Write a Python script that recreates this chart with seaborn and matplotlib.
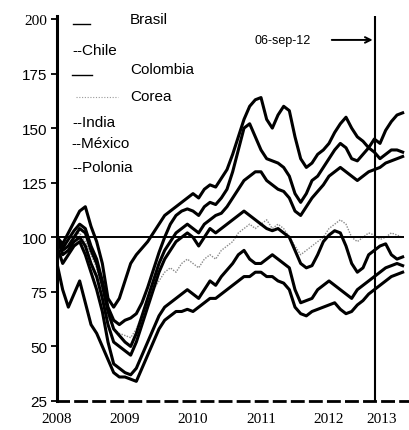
import numpy as np
import pandas as pd
import matplotlib
matplotlib.use('Agg')
import matplotlib.pyplot as plt
from matplotlib.lines import Line2D
import seaborn as sns

# monthly index values, jan-2008 .. feb-2013 (base 100)
paises = ['Brasil', 'Chile', 'Colombia', 'Corea', 'India', 'México', 'Polonia']

colombia = [100, 97, 102, 107, 112, 114, 105, 98, 88, 72, 68, 72,
            80, 88, 92, 95, 98, 102, 106, 110, 112, 114, 116, 118,
            120, 118, 122, 124, 123, 127, 131, 138, 146, 154, 160, 163,
            164, 154, 150, 156, 160, 158, 146, 136, 132, 134, 138, 140,
            143, 148, 152, 155, 150, 146, 144, 141, 145, 143, 149, 153,
            156, 157]
chile = [100, 95, 99, 103, 106, 104, 96, 90, 80, 68, 62, 60,
         62, 63, 65, 70, 77, 85, 93, 100, 106, 110, 112, 113,
         112, 110, 114, 116, 115, 118, 122, 130, 140, 150, 152, 146,
         140, 136, 135, 134, 132, 128, 120, 116, 120, 126, 128, 132,
         136, 140, 143, 141, 136, 135, 138, 141, 139, 136, 138, 140,
         140, 139]
mexico = [100, 94, 96, 100, 104, 102, 94, 88, 78, 66, 58, 55,
          52, 50, 56, 64, 72, 80, 88, 94, 98, 102, 104, 106,
          104, 102, 106, 108, 110, 111, 114, 118, 122, 126, 128, 130,
          130, 126, 124, 122, 121, 118, 112, 110, 114, 118, 121, 124,
          128, 130, 132, 130, 128, 126, 128, 130, 131, 132, 134, 135,
          136, 137]
polonia = [100, 92, 94, 98, 100, 96, 88, 82, 72, 60, 52, 50,
           48, 46, 52, 60, 68, 76, 84, 90, 94, 98, 100, 102,
           100, 96, 100, 104, 102, 104, 106, 108, 110, 112, 110, 108,
           106, 104, 103, 104, 102, 100, 94, 88, 86, 87, 92, 98,
           101, 103, 102, 96, 88, 84, 86, 92, 94, 96, 97, 92,
           90, 91]
corea = [98, 94, 96, 100, 102, 98, 92, 86, 76, 64, 58, 56,
         55, 54, 58, 64, 70, 76, 80, 84, 86, 84, 88, 90,
         88, 86, 90, 92, 90, 94, 96, 98, 102, 104, 106, 104,
         106, 108, 104, 106, 104, 100, 96, 92, 94, 96, 98, 100,
         104, 106, 108, 106, 100, 98, 100, 102, 101, 99, 100, 102,
         101, 100]
brasil = [96, 88, 92, 96, 98, 92, 84, 76, 66, 52, 42, 40,
          38, 37, 40, 46, 52, 58, 64, 68, 70, 72, 74, 76,
          74, 72, 76, 80, 78, 82, 85, 88, 92, 94, 90, 88,
          88, 90, 92, 90, 88, 86, 76, 70, 71, 72, 76, 78,
          80, 78, 76, 74, 72, 76, 78, 80, 82, 84, 86, 87,
          88, 87]
india = [88, 76, 68, 74, 80, 70, 60, 56, 50, 44, 38, 36,
         36, 35, 34, 40, 46, 52, 58, 62, 64, 66, 66, 67,
         66, 68, 70, 72, 72, 74, 76, 78, 80, 82, 82, 84,
         84, 82, 82, 80, 79, 76, 68, 65, 64, 66, 67, 68,
         69, 70, 67, 65, 66, 69, 71, 74, 76, 78, 80, 82,
         83, 84]

anios = [2008, 2009, 2010, 2011, 2012, 2013]
y_ticks = [25, 50, 75, 100, 125, 150, 175, 200]
fecha_corte = 2012 + 250 / 366  # 06-sep-12

series = {'Brasil': brasil, 'Chile': chile, 'Colombia': colombia, 'Corea': corea,
          'India': india, 'México': mexico, 'Polonia': polonia}
frames = []
for p in paises:
    v = series[p]
    frames.append(pd.DataFrame({'fecha': 2008 + np.arange(len(v)) / 12.0,
                                'indice': v, 'pais': p}))
df = pd.concat(frames, ignore_index=True)

fig = plt.figure(figsize=(4.10, 4.31), dpi=100)
ax = fig.add_axes([57 / 410, 1 - 402 / 431, 1 - 57 / 410, (402 - 17) / 431])

palette = {p: 'black' for p in paises}
palette['Corea'] = '#8a8a8a'
dashes = {p: '' for p in paises}
dashes['Corea'] = (1, 1)
sns.lineplot(data=df, x='fecha', y='indice', hue='pais', style='pais',
             palette=palette, dashes=dashes, linewidth=2.2, legend=False, ax=ax)
for l in ax.get_lines():
    if l.get_color() == '#8a8a8a':
        l.set_linewidth(1.0)

ax.hlines(100, 2008, 2013.1, color='black', lw=1.4)
ax.axvline(fecha_corte, color='black', lw=1.5)
ax.annotate('', xy=(fecha_corte, 190.4), xytext=(2012.0, 190.4),
            arrowprops=dict(arrowstyle='->', lw=1.4, color='black'))
ax.text(2011.32, 190.4, '06-sep-12', fontsize=9, ha='center', va='center',
        family='Liberation Sans')

ax.set_xlim(2008, 2008 + (410 - 57) / 68)
ax.set_ylim(25, 25 + (402 - 17) / 2.183)
ax.set_xticks(anios)
ax.set_xticklabels([str(a) for a in anios], family='Liberation Serif', fontsize=11)
ax.get_xticklabels()[-1].set_ha('right')
ax.get_xticklabels()[-1].set_x(2013.18)
ax.set_yticks(y_ticks)
ax.set_yticklabels([str(t) for t in y_ticks], family='Liberation Sans', fontsize=11)
ax.get_yticklabels()[-1].set_family('Liberation Serif')
ax.tick_params(axis='x', length=0, pad=8)
ax.tick_params(axis='y', length=4, width=1.3, pad=3)
ax.set_xlabel('')
ax.set_ylabel('')
for s in ['top', 'right']:
    ax.spines[s].set_visible(False)
ax.spines['left'].set_linewidth(2.2)
ax.spines['bottom'].set_linewidth(2.0)
ax.spines['bottom'].set_linestyle((0, (4, 2.5)))

# legend drawn as loose text, like the original
def fx(x):
    return x / 410
def fy(y):
    return 1 - y / 431

txt = dict(fontsize=11, family='Liberation Sans', va='center', ha='left')
fig.text(fx(130), fy(20), 'Brasil', **txt)
fig.add_artist(Line2D([fx(73), fx(90)], [fy(25), fy(25)], color='black', lw=1))
fig.text(fx(72), fy(51), '--Chile', **txt)
fig.text(fx(130), fy(70), 'Colombia', **txt)
fig.add_artist(Line2D([fx(72), fx(92)], [fy(76), fy(76)], color='black', lw=1))
fig.text(fx(130), fy(97), 'Corea', **txt)
fig.add_artist(Line2D([fx(76), fx(118)], [fy(98), fy(98)], color='#999999',
                      lw=0.8, ls=(0, (1, 1.5))))
fig.text(fx(72), fy(123), '--India', **txt)
fig.text(fx(71), fy(144), '--México', **txt)
fig.text(fx(72), fy(168), '--Polonia', **txt)

fig.savefig('out.png', dpi=100)
